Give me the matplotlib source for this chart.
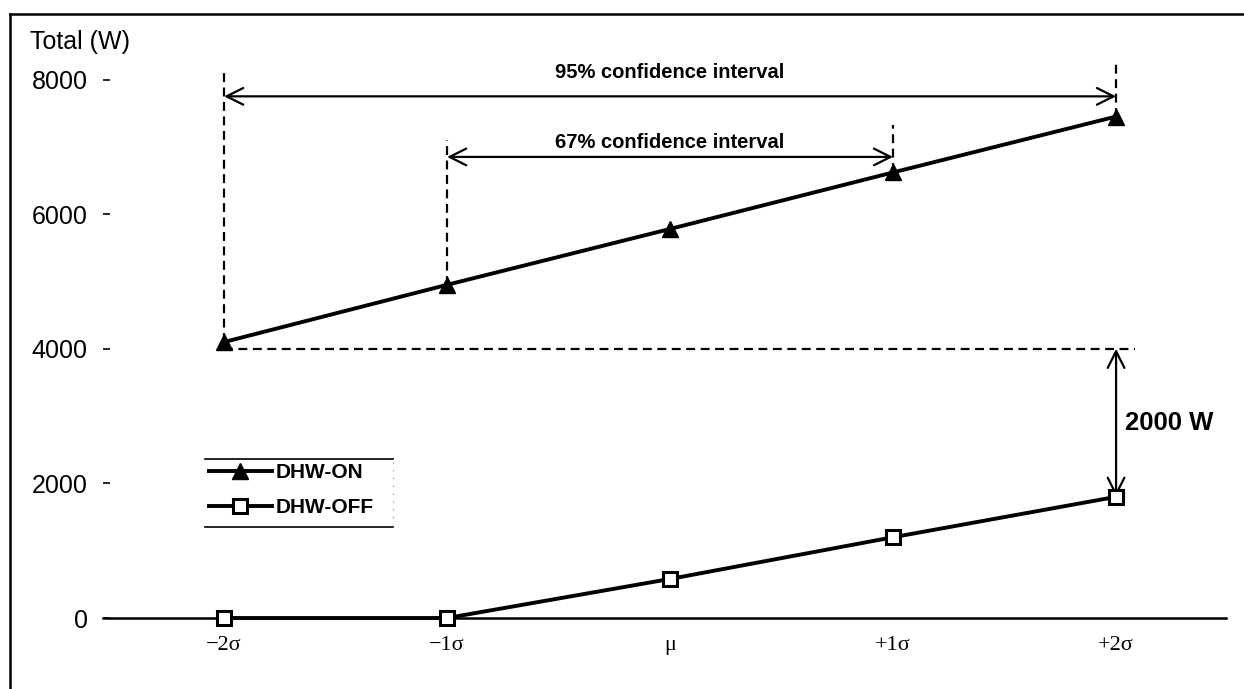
import matplotlib.pyplot as plt
from matplotlib.lines import Line2D

# Données : puissance totale selon l'écart à la moyenne
positions = [0, 1, 2, 3, 4]
etiquettes_x = ["\u22122\u03c3", "\u22121\u03c3", "\u03bc", "+1\u03c3", "+2\u03c3"]
dhw_on = [4100, 4950, 5780, 6620, 7450]
dhw_off = [0, 0, 580, 1200, 1800]
graduations_y = [0, 2000, 4000, 6000, 8000]

W, H = 1244, 689
fig = plt.figure(figsize=(W / 100, H / 100), dpi=100)
ax = fig.add_axes([103 / W, 1 - 618 / H, (1226 - 103) / W, (618 - 60) / H])

sans = "Liberation Sans"
serif = "Liberation Serif"

ax.plot(positions, dhw_on, color="black", lw=2.8, marker="^", ms=11,
        mfc="black", mec="black", label="DHW-ON", clip_on=False, zorder=4)
ax.plot(positions, dhw_off, color="black", lw=2.8, marker="s", ms=10,
        mfc="white", mec="black", mew=2.2, label="DHW-OFF", clip_on=False, zorder=4)

ax.set_xlim(-0.543, 4.493)
ax.set_ylim(0, 8290)

for s in ["top", "right", "left"]:
    ax.spines[s].set_visible(False)
ax.spines["bottom"].set_linewidth(1.8)

ax.set_xticks(positions)
ax.set_xticklabels(etiquettes_x, family=serif, fontsize=16)
ax.tick_params(axis="x", length=0, pad=13)
ax.set_yticks(graduations_y)
ax.set_yticklabels([str(v) for v in graduations_y], family=sans, fontsize=18)
ax.tick_params(axis="y", direction="in", length=5, width=1.2, pad=11)

fig.text(30 / W, 1 - 42 / H, "Total (W)", family=sans, fontsize=18, va="center", ha="left")

# Traits verticaux pointillés au-dessus des points d'intervalle
dash = dict(color="black", lw=1.6, ls=(0, (4, 2.5)), clip_on=False, zorder=3)
haut = {0: 8140, 1: 7100, 3: 7330, 4: 8260}
for i, y_top in haut.items():
    ax.plot([positions[i], positions[i]], [dhw_on[i], y_top], **dash)

# Ligne horizontale à 4000 W
ax.plot([positions[0], 4.085], [4000, 4000], **dash)

fleche = dict(arrowstyle="<->", lw=1.6, color="black", mutation_scale=30,
              shrinkA=0, shrinkB=0)
ax.annotate("", xy=(positions[4], 7750), xytext=(positions[0], 7750),
            arrowprops=fleche, annotation_clip=False)
ax.text(positions[2], 8100, "95% confidence interval", family=sans, fontsize=14.5,
        weight="bold", ha="center", va="center")
ax.annotate("", xy=(positions[3], 6850), xytext=(positions[1], 6850),
            arrowprops=fleche, annotation_clip=False)
ax.text(positions[2], 7060, "67% confidence interval", family=sans, fontsize=14.5,
        weight="bold", ha="center", va="center")

# Écart de 2000 W entre les deux cas
ax.annotate("", xy=(positions[4], dhw_off[4]), xytext=(positions[4], 4000),
            arrowprops=fleche, annotation_clip=False)
ax.text(positions[4] + 0.04, 2900, "2000 W", family=sans, fontsize=18.5,
        weight="bold", ha="left", va="center")

leg = fig.legend(loc="center left", bbox_to_anchor=(209 / W, 1 - 490 / H),
                 frameon=False, prop={"family": sans, "size": 15, "weight": "bold"},
                 handlelength=3.0, handletextpad=0.2, labelspacing=0.75,
                 borderpad=0, borderaxespad=0)
fig.add_artist(Line2D([205 / W, 393 / W], [1 - 459 / H] * 2, color="black", lw=1.2))
fig.add_artist(Line2D([205 / W, 393 / W], [1 - 527 / H] * 2, color="black", lw=1.2))
fig.add_artist(Line2D([393 / W, 393 / W], [1 - 462 / H, 1 - 524 / H],
                      color="gray", lw=0.8, ls=(0, (1, 6))))

# Cadre autour de la figure
fig.add_artist(Line2D([10 / W, 1], [1 - 14 / H] * 2, color="black", lw=1.8))
fig.add_artist(Line2D([10 / W, 10 / W], [0, 1 - 14 / H], color="black", lw=1.8))

fig.savefig("out.png", dpi=100)
